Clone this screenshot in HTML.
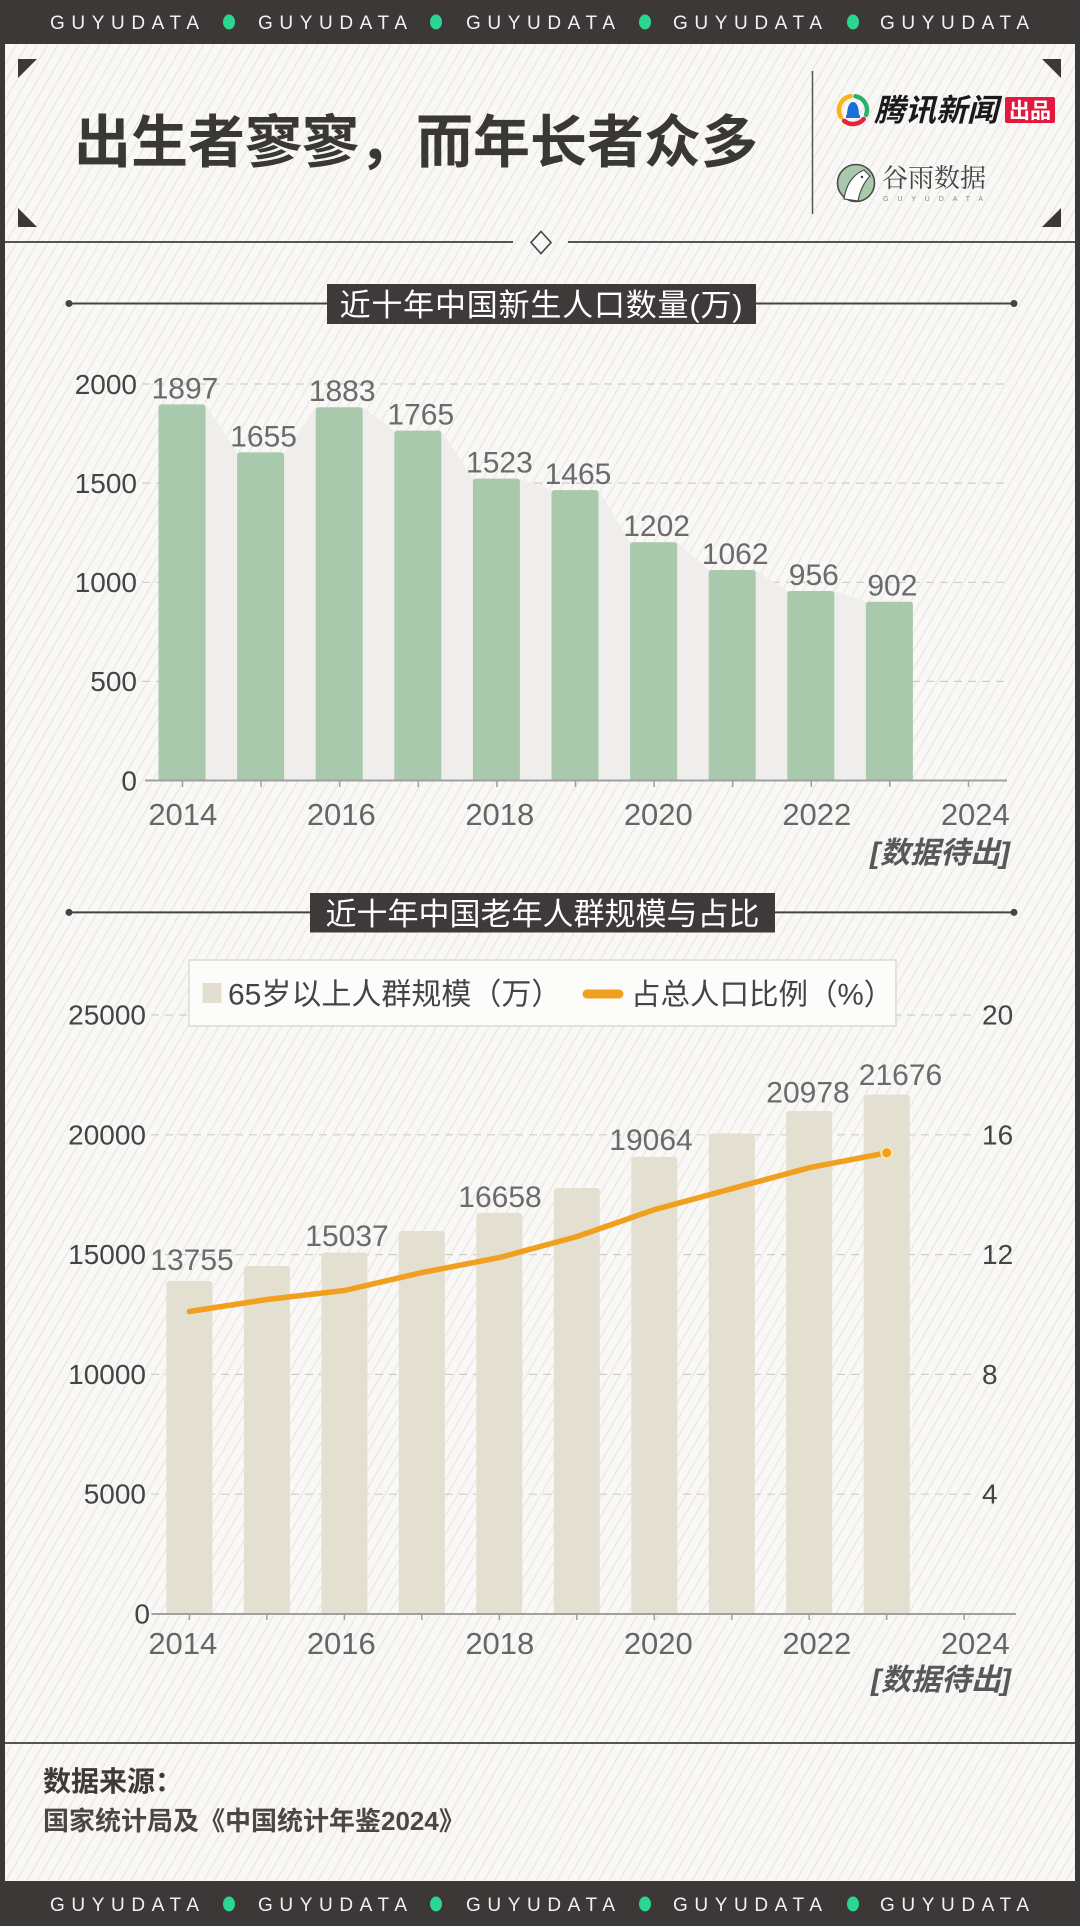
<!DOCTYPE html>
<html>
<head>
<meta charset="utf-8">
<style>
html,body{margin:0;padding:0;background:#3c3837;}
svg{display:block}
</style>
</head>
<body>
<svg width="1080" height="1926" viewBox="0 0 1080 1926" xmlns="http://www.w3.org/2000/svg">
<defs>
  <pattern id="st" width="9" height="9" patternUnits="userSpaceOnUse" patternTransform="rotate(30)">
    <rect width="9" height="9" fill="#f9f8f6"/>
    <rect width="1.2" height="9" fill="#e9e7e3"/>
  </pattern>
  <clipPath id="c1"><rect x="0" y="0" width="1080" height="780.5"/></clipPath>
  <clipPath id="c2"><rect x="0" y="0" width="1080" height="1614"/></clipPath>
  <style>
    .lat{font-family:"Liberation Sans","Noto Sans CJK SC",sans-serif;}
    .cn{font-family:"Liberation Sans","Noto Sans CJK SC",sans-serif;}
    .gy{font-family:"Liberation Sans",sans-serif;font-size:19px;fill:#f2f2f2;}
  </style>
</defs>

<!-- background -->
<rect x="0" y="0" width="1080" height="1926" fill="#3c3837"/>
<rect x="5" y="44" width="1070" height="1837" fill="url(#st)"/>

<!-- top bar text -->
<g class="gy">
  <text x="50" y="29" textLength="149" lengthAdjust="spacing">GUYUDATA</text>
  <text x="258" y="29" textLength="149" lengthAdjust="spacing">GUYUDATA</text>
  <text x="466" y="29" textLength="149" lengthAdjust="spacing">GUYUDATA</text>
  <text x="673" y="29" textLength="149" lengthAdjust="spacing">GUYUDATA</text>
  <text x="880" y="29" textLength="149" lengthAdjust="spacing">GUYUDATA</text>
  <text x="50" y="1911" textLength="149" lengthAdjust="spacing">GUYUDATA</text>
  <text x="258" y="1911" textLength="149" lengthAdjust="spacing">GUYUDATA</text>
  <text x="466" y="1911" textLength="149" lengthAdjust="spacing">GUYUDATA</text>
  <text x="673" y="1911" textLength="149" lengthAdjust="spacing">GUYUDATA</text>
  <text x="880" y="1911" textLength="149" lengthAdjust="spacing">GUYUDATA</text>
</g>
<g fill="#2bd692">
  <ellipse cx="229" cy="22" rx="6" ry="7.5"/>
  <ellipse cx="436" cy="22" rx="6" ry="7.5"/>
  <ellipse cx="645" cy="22" rx="6" ry="7.5"/>
  <ellipse cx="853" cy="22" rx="6" ry="7.5"/>
  <ellipse cx="229" cy="1904" rx="6" ry="7.5"/>
  <ellipse cx="436" cy="1904" rx="6" ry="7.5"/>
  <ellipse cx="645" cy="1904" rx="6" ry="7.5"/>
  <ellipse cx="853" cy="1904" rx="6" ry="7.5"/>
</g>

<!-- corner triangles -->
<g fill="#3c3837">
  <polygon points="18,59 37,59 18,78"/>
  <polygon points="18,208 18,227 37,227"/>
  <polygon points="1042,59 1061,59 1061,78"/>
  <polygon points="1061,208 1061,227 1042,227"/>
</g>

<!-- main title -->
<text x="74" y="162" class="cn" font-size="57" font-weight="700" fill="#3a3837">出生者寥寥，而年长者众多</text>

<!-- divider -->
<line x1="812.5" y1="71" x2="812.5" y2="214" stroke="#555" stroke-width="1.5"/>

<!-- Tencent logo -->
<g transform="translate(853,110)" fill="none" stroke-width="4.5" stroke-linecap="round">
  <path d="M-12.12,7 A14,14 0 0 1 -2.43,-13.79" stroke="#f5b719"/>
  <path d="M2.43,-13.79 A14,14 0 0 1 13.16,4.79" stroke="#27b26b"/>
  <path d="M10.72,9 A14,14 0 0 1 -9,10.72" stroke="#e2263c"/>
  <path d="M-6,6 C-6,-2 -4,-8 0,-8 C4,-8 6,-2 6,6 Z" fill="#1b6fd8" stroke="none"/>
  <rect x="-7" y="5" width="14" height="3" fill="#1b6fd8" stroke="none"/>
</g>
<text x="874" y="121" class="cn" font-size="31" font-weight="700" font-style="italic" fill="#1a1a1a">腾讯新闻</text>
<rect x="1005" y="97" width="50" height="26" rx="2" fill="#e4173e"/>
<text x="1030" y="118" class="cn" font-size="21" font-weight="700" fill="#ffffff" text-anchor="middle">出品</text>

<!-- Guyu logo -->
<circle cx="856" cy="183" r="18.5" fill="#a8c9ab" stroke="#4a4a4a" stroke-width="1.6"/>
<path d="M844,199 C846,185 852,175 864,170 L870,176 C865,181 860,190 858,201 Z" fill="#ffffff" stroke="#4a4a4a" stroke-width="1.2"/>
<circle cx="862" cy="177" r="1.2" fill="#333"/>
<text x="882" y="187" font-family="'Liberation Serif','Noto Serif CJK SC',serif" font-size="26" fill="#454545">谷雨数据</text>
<text x="883" y="201" font-family="'Liberation Sans',sans-serif" font-size="7" fill="#888" textLength="100" lengthAdjust="spacing">GUYUDATA</text>

<!-- separator with diamond -->
<line x1="5" y1="242" x2="513" y2="242" stroke="#555" stroke-width="2"/>
<line x1="568" y1="242" x2="1075" y2="242" stroke="#555" stroke-width="2"/>
<polygon points="541,231.5 551,242.5 541,253.5 531,242.5" fill="#f9f8f6" stroke="#444" stroke-width="1.6"/>

<!-- ================= CHART 1 ================= -->
<line x1="69" y1="303.5" x2="1014" y2="303.5" stroke="#444" stroke-width="2"/>
<circle cx="69" cy="303.5" r="3.5" fill="#444"/>
<circle cx="1014" cy="303.5" r="3.5" fill="#444"/>
<rect x="327" y="284" width="429" height="40" fill="#3d3a39"/>
<text x="541.5" y="316" class="cn" font-size="31" letter-spacing="0.8" fill="#ffffff" text-anchor="middle">近十年中国新生人口数量(万)</text>

<!-- gridlines -->
<g stroke="#cfcdca" stroke-width="1.2" stroke-dasharray="8 6">
  <line x1="142" y1="384" x2="1007" y2="384"/>
  <line x1="142" y1="483.1" x2="1007" y2="483.1"/>
  <line x1="142" y1="582.3" x2="1007" y2="582.3"/>
  <line x1="142" y1="681.4" x2="1007" y2="681.4"/>
</g>

<!-- area -->
<polygon fill="#efeeec" points="158.5,780.5 158.5,404.4 205.5,404.4 237.1,452.4 284.1,452.4 315.7,407.2 362.7,407.2 394.3,430.6 441.3,430.6 472.9,478.6 519.9,478.6 551.5,490.1 598.5,490.1 630.1,542.2 677.1,542.2 708.7,570 755.7,570 787.3,591 834.3,591 865.9,601.7 912.9,601.7 912.9,780.5"/>

<!-- bars -->
<g fill="#a8c9ab" clip-path="url(#c1)">
  <rect x="158.5" y="404.4" width="47" height="380" rx="3"/>
  <rect x="237.1" y="452.4" width="47" height="340" rx="3"/>
  <rect x="315.7" y="407.2" width="47" height="380" rx="3"/>
  <rect x="394.3" y="430.6" width="47" height="360" rx="3"/>
  <rect x="472.9" y="478.6" width="47" height="310" rx="3"/>
  <rect x="551.5" y="490.1" width="47" height="300" rx="3"/>
  <rect x="630.1" y="542.2" width="47" height="250" rx="3"/>
  <rect x="708.7" y="570" width="47" height="220" rx="3"/>
  <rect x="787.3" y="591" width="47" height="200" rx="3"/>
  <rect x="865.9" y="601.7" width="47" height="190" rx="3"/>
</g>

<!-- axis -->
<line x1="145" y1="780.5" x2="1007" y2="780.5" stroke="#a0a0a0" stroke-width="2"/>
<g stroke="#a0a0a0" stroke-width="1.5">
  <line x1="182.5" y1="781" x2="182.5" y2="787"/>
  <line x1="261.1" y1="781" x2="261.1" y2="787"/>
  <line x1="339.7" y1="781" x2="339.7" y2="787"/>
  <line x1="418.3" y1="781" x2="418.3" y2="787"/>
  <line x1="496.9" y1="781" x2="496.9" y2="787"/>
  <line x1="575.5" y1="781" x2="575.5" y2="787"/>
  <line x1="654.1" y1="781" x2="654.1" y2="787"/>
  <line x1="732.7" y1="781" x2="732.7" y2="787"/>
  <line x1="811.3" y1="781" x2="811.3" y2="787"/>
  <line x1="889.9" y1="781" x2="889.9" y2="787"/>
  <line x1="968.5" y1="781" x2="968.5" y2="787"/>
</g>

<!-- y labels -->
<g class="lat" font-size="28" fill="#444" text-anchor="end">
  <text x="137" y="394">2000</text>
  <text x="137" y="493">1500</text>
  <text x="137" y="592">1000</text>
  <text x="137" y="691">500</text>
  <text x="137" y="790.5">0</text>
</g>

<!-- value labels -->
<g class="lat" font-size="30" fill="#6b6b6b" text-anchor="middle">
  <text x="185" y="398.4">1897</text>
  <text x="263.6" y="446.4">1655</text>
  <text x="342.2" y="401.2">1883</text>
  <text x="420.8" y="424.6">1765</text>
  <text x="499.4" y="472.6">1523</text>
  <text x="578" y="484.1">1465</text>
  <text x="656.6" y="536.2">1202</text>
  <text x="735.2" y="564">1062</text>
  <text x="813.8" y="585">956</text>
  <text x="892.4" y="595.7">902</text>
</g>

<!-- x labels -->
<g class="lat" font-size="31" fill="#666" text-anchor="middle">
  <text x="182.8" y="825">2014</text>
  <text x="341.3" y="825">2016</text>
  <text x="499.8" y="825">2018</text>
  <text x="658.3" y="825">2020</text>
  <text x="816.8" y="825">2022</text>
  <text x="975.3" y="825">2024</text>
</g>
<text x="1010" y="863" class="cn" font-size="30" font-style="italic" font-weight="700" fill="#585858" text-anchor="end">[数据待出]</text>

<!-- ================= CHART 2 ================= -->
<line x1="69" y1="912.4" x2="1014" y2="912.4" stroke="#444" stroke-width="2"/>
<circle cx="69" cy="912.4" r="3.5" fill="#444"/>
<circle cx="1014" cy="912.4" r="3.5" fill="#444"/>
<rect x="310" y="893" width="465" height="39.5" fill="#3d3a39"/>
<text x="542.5" y="925" class="cn" font-size="31" fill="#ffffff" text-anchor="middle">近十年中国老年人群规模与占比</text>

<!-- gridlines -->
<g stroke="#cfcdca" stroke-width="1.2" stroke-dasharray="8 6">
  <line x1="151" y1="1015" x2="973" y2="1015"/>
  <line x1="151" y1="1134.8" x2="973" y2="1134.8"/>
  <line x1="151" y1="1254.6" x2="973" y2="1254.6"/>
  <line x1="151" y1="1374.4" x2="973" y2="1374.4"/>
  <line x1="151" y1="1494.2" x2="973" y2="1494.2"/>
</g>

<!-- legend -->
<rect x="189" y="960" width="707" height="66" fill="#fcfcfb" stroke="#dcdad6" stroke-width="1.5"/>
<rect x="202.5" y="983" width="19" height="20" fill="#e3dfcf"/>
<text x="228" y="1004.5" class="cn" font-size="30" fill="#444">65岁以上人群规模（万）</text>
<line x1="587" y1="994" x2="619" y2="994" stroke="#f0a01e" stroke-width="9" stroke-linecap="round"/>
<text x="631" y="1004.5" class="cn" font-size="29.5" fill="#444">占总人口比例（%）</text>

<!-- bars -->
<g fill="#e4e0d1" clip-path="url(#c2)">
  <rect x="166.4" y="1281" width="46" height="340" rx="3"/>
  <rect x="243.9" y="1266" width="46" height="360" rx="3"/>
  <rect x="321.4" y="1252.5" width="46" height="370" rx="3"/>
  <rect x="398.8" y="1231" width="46" height="390" rx="3"/>
  <rect x="476.3" y="1213" width="46" height="410" rx="3"/>
  <rect x="553.8" y="1188" width="46" height="430" rx="3"/>
  <rect x="631.3" y="1157" width="46" height="460" rx="3"/>
  <rect x="708.8" y="1133.5" width="46" height="490" rx="3"/>
  <rect x="786.2" y="1111" width="46" height="510" rx="3"/>
  <rect x="863.7" y="1094.6" width="46" height="530" rx="3"/>
</g>

<!-- axis -->
<line x1="151.5" y1="1614" x2="1016" y2="1614" stroke="#a0a0a0" stroke-width="2"/>
<g stroke="#a0a0a0" stroke-width="1.5">
  <line x1="189.4" y1="1614.5" x2="189.4" y2="1620"/>
  <line x1="266.9" y1="1614.5" x2="266.9" y2="1620"/>
  <line x1="344.4" y1="1614.5" x2="344.4" y2="1620"/>
  <line x1="421.8" y1="1614.5" x2="421.8" y2="1620"/>
  <line x1="499.3" y1="1614.5" x2="499.3" y2="1620"/>
  <line x1="576.8" y1="1614.5" x2="576.8" y2="1620"/>
  <line x1="654.3" y1="1614.5" x2="654.3" y2="1620"/>
  <line x1="731.8" y1="1614.5" x2="731.8" y2="1620"/>
  <line x1="809.2" y1="1614.5" x2="809.2" y2="1620"/>
  <line x1="886.7" y1="1614.5" x2="886.7" y2="1620"/>
  <line x1="964.2" y1="1614.5" x2="964.2" y2="1620"/>
</g>

<!-- left y labels -->
<g class="lat" font-size="28" fill="#444" text-anchor="end">
  <text x="146" y="1024.5">25000</text>
  <text x="146" y="1144.3">20000</text>
  <text x="146" y="1264.1">15000</text>
  <text x="146" y="1383.9">10000</text>
  <text x="146" y="1503.7">5000</text>
  <text x="150" y="1623.5">0</text>
</g>
<!-- right y labels -->
<g class="lat" font-size="28" fill="#444" text-anchor="start">
  <text x="982" y="1024.5">20</text>
  <text x="982" y="1144.3">16</text>
  <text x="982" y="1264.1">12</text>
  <text x="982" y="1383.9">8</text>
  <text x="982" y="1503.7">4</text>
</g>

<!-- value labels -->
<g class="lat" font-size="30" fill="#6b6b6b" text-anchor="middle">
  <text x="192" y="1270">13755</text>
  <text x="347" y="1246">15037</text>
  <text x="500" y="1207">16658</text>
  <text x="651" y="1150">19064</text>
  <text x="808" y="1102.7">20978</text>
  <text x="900.5" y="1085">21676</text>
</g>

<!-- line -->
<polyline fill="none" stroke="#f0a01e" stroke-width="5.5" stroke-linejoin="round" stroke-linecap="round"
  points="189.4,1311.5 266.9,1299.5 344.4,1290.5 421.8,1272.6 499.3,1257.6 576.8,1236.6 654.3,1209.7 731.8,1188.7 809.2,1167.7 886.7,1152.8"/>
<circle cx="886.7" cy="1152.8" r="5.5" fill="#f0a01e" stroke="#fbe2b0" stroke-width="2"/>

<!-- x labels -->
<g class="lat" font-size="31" fill="#666" text-anchor="middle">
  <text x="182.8" y="1654">2014</text>
  <text x="341.3" y="1654">2016</text>
  <text x="499.8" y="1654">2018</text>
  <text x="658.3" y="1654">2020</text>
  <text x="816.8" y="1654">2022</text>
  <text x="975.3" y="1654">2024</text>
</g>
<text x="1011" y="1690" class="cn" font-size="30" font-style="italic" font-weight="700" fill="#585858" text-anchor="end">[数据待出]</text>

<!-- footer -->
<line x1="5" y1="1743" x2="1075" y2="1743" stroke="#555" stroke-width="2"/>
<text x="43" y="1791" class="cn" font-size="28" font-weight="700" fill="#3d3a39">数据来源：</text>
<text x="43" y="1830" class="cn" font-size="26" font-weight="700" fill="#4a4746">国家统计局及《中国统计年鉴2024》</text>

</svg>
</body>
</html>
